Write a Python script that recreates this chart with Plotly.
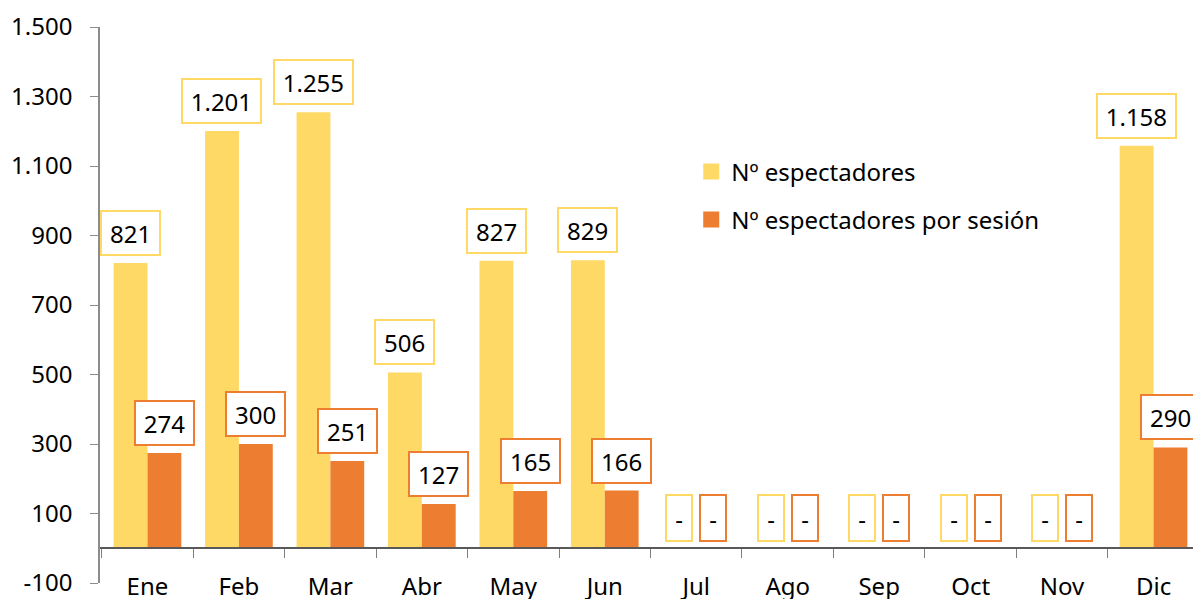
import plotly.graph_objects as go

meses = ["Ene", "Feb", "Mar", "Abr", "May", "Jun", "Jul", "Ago", "Sep", "Oct", "Nov", "Dic"]
espectadores = [821, 1201, 1255, 506, 827, 829, None, None, None, None, None, 1158]
por_sesion = [274, 300, 251, 127, 165, 166, None, None, None, None, None, 290]
y_ticks = [-100, 100, 300, 500, 700, 900, 1100, 1300, 1500]
serie_nombres = ["Nº espectadores", "Nº espectadores por sesión"]

AMARILLO = "#FFD966"
NARANJA = "#ED7D31"
FONT = "Noto Sans"


def fmt(v):
    if v is None:
        return "-"
    return f"{v:,}".replace(",", ".")


fig = go.Figure()
for nombre, serie, color in zip(serie_nombres, [espectadores, por_sesion], [AMARILLO, NARANJA]):
    fig.add_trace(go.Bar(x=meses, y=serie, name=nombre,
                         marker=dict(color=color, line=dict(width=0)),
                         showlegend=False))
for i, (nombre, color) in enumerate(zip(serie_nombres, [AMARILLO, NARANJA])):
    fig.add_trace(go.Scatter(x=[None], y=[None], mode="markers", name=nombre,
                             marker=dict(symbol="square", size=16, color=color),
                             legendgroup=f"g{i}", hoverinfo="skip"))

W, H = 1193, 591
ML, MR, MT, MB = 92, 0, 19, 16
BARGAP = 0.26
plot_w = W - ML - MR
bar_px = plot_w / len(meses) * (1 - BARGAP) / 2


def box_width(t):
    if t == "-":
        return 14
    digits = sum(c.isdigit() for c in t)
    dots = t.count(".")
    return digits * 13.7 + dots * 6 + 6


annotations = []
for serie, color, sign in [(espectadores, AMARILLO, -1), (por_sesion, NARANJA, 1)]:
    for m, v in zip(meses, serie):
        t = fmt(v)
        annotations.append(dict(
            x=m, y=v if v is not None else 0, xref="x", yref="y",
            text=t, showarrow=False, xshift=sign * bar_px / 2, yshift=30,
            xanchor="center", yanchor="middle",
            font=dict(family=FONT, size=24, color="#000000"),
            bgcolor="white", bordercolor=color, borderwidth=2, borderpad=5,
            width=box_width(t), height=32 if t != "-" else 34, align="center",
        ))

y0_paper = (0 - y_ticks[0]) / (y_ticks[-1] - y_ticks[0])

fig.update_layout(
    width=W, height=H,
    margin=dict(l=ML, r=MR, t=MT, b=MB),
    plot_bgcolor="white", paper_bgcolor="white",
    barmode="group", bargap=BARGAP, bargroupgap=0,
    font=dict(family=FONT, size=24, color="#000000"),
    annotations=annotations,
    legend=dict(x=0.537, y=0.78, xanchor="left", yanchor="top",
                font=dict(family=FONT, size=24, color="#000000"),
                bgcolor="rgba(0,0,0,0)", tracegroupgap=14, traceorder="grouped",
                itemsizing="trace"),
    xaxis=dict(
        type="category", anchor="free", position=y0_paper,
        showline=True, linecolor="#595959", linewidth=1.5,
        ticks="outside", tickson="boundaries", ticklen=9, tickcolor="#7f7f7f",
        tickfont=dict(family=FONT, size=24, color="#000000"),
        ticklabelstandoff=17, showgrid=False, automargin=False,
    ),
    yaxis=dict(
        range=[y_ticks[0], y_ticks[-1]],
        tickvals=y_ticks, ticktext=[fmt(v) for v in y_ticks],
        showline=True, linecolor="#8c8c8c", linewidth=1.5,
        ticks="outside", ticklen=8, tickcolor="#8c8c8c",
        tickfont=dict(family=FONT, size=24, color="#000000"),
        ticklabelstandoff=13, showgrid=False, zeroline=False, automargin=False,
    ),
)

fig.write_html("out.html")
